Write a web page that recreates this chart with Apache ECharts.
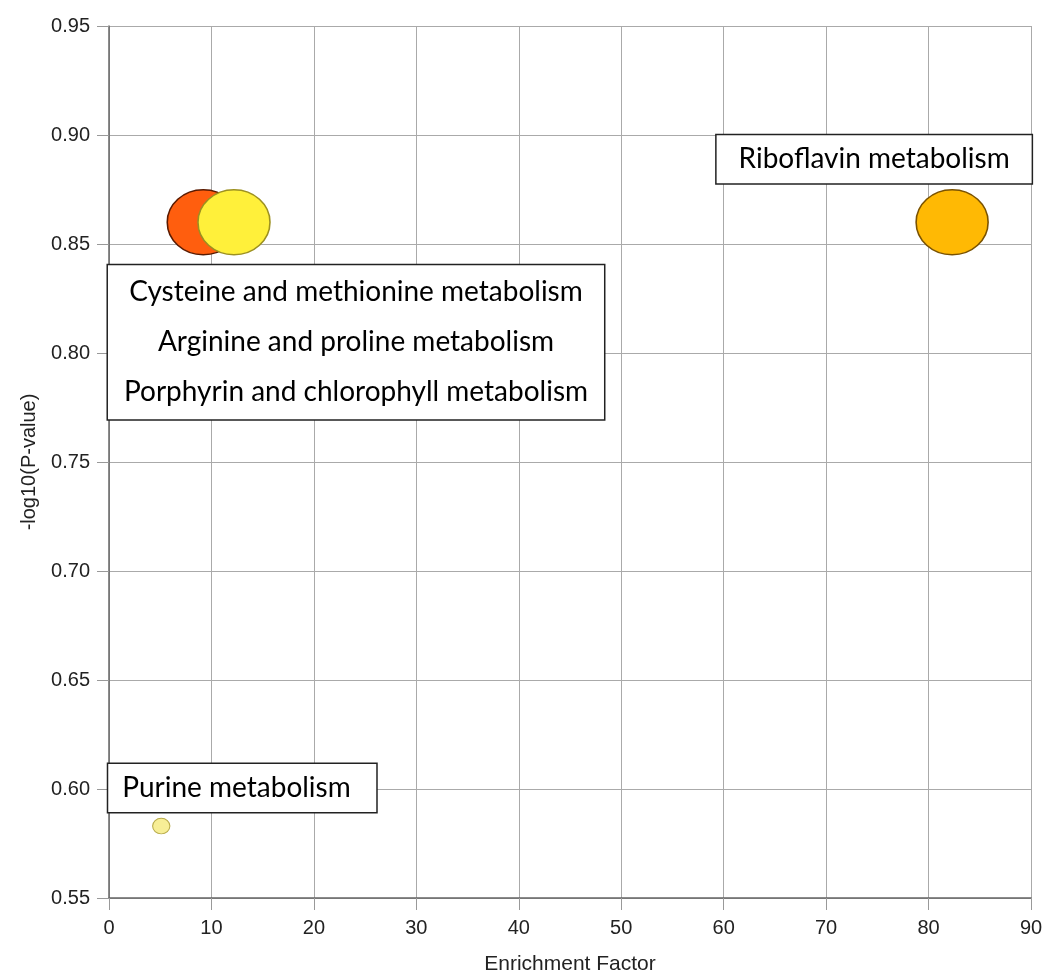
<!DOCTYPE html>
<html>
<head>
<meta charset="utf-8">
<style>html,body{margin:0;padding:0;background:#fff}#c{width:1047px;height:971px}</style>
<script src="https://cdn.jsdelivr.net/npm/echarts@6/dist/echarts.min.js"></script>
</head>
<body>
<div id="c"></div>
<script>
// ---- data ----
const enrichment = [9.2, 12.2, 82.3, 5.1];
const negLogP = [0.86, 0.86, 0.86, 0.583];
const impact = [0.5, 0.5, 0.5, 0.12];
const labels = [
  '',
  'Cysteine and methionine metabolism\nArginine and proline metabolism\nPorphyrin and chlorophyll metabolism',
  'Riboflavin metabolism',
  'Purine metabolism'
];
const xTicks = [0, 10, 20, 30, 40, 50, 60, 70, 80, 90];
const yTicks = [0.55, 0.60, 0.65, 0.70, 0.75, 0.80, 0.85, 0.90, 0.95];

// ---- styles ----
const fills = ['#FF5E0E', '#FFF03A', '#FFB904', '#F7EE96'];
const borders = ['#5a1a00', '#9c9020', '#7a5200', '#b8ab4a'];
const labelStyles = [
  null,
  { offset: [122, 120], width: 456, padding: [2, 20], lineHeight: 50 },
  { offset: [-78, -63], width: 273, padding: [6, 21], lineHeight: 36 },
  { offset: [-53, -38], width: 230, padding: [6, 24, 6, 14], lineHeight: 36, align: 'left' }
];

const data = enrichment.map((x, i) => {
  const item = {
    value: [x, negLogP[i], impact[i]],
    name: labels[i],
    itemStyle: { color: fills[i], borderColor: borders[i], borderWidth: i === 3 ? 1 : 1.5, opacity: 1 }
  };
  const ls = labelStyles[i];
  if (ls) {
    item.label = {
      show: true,
      position: 'inside',
      formatter: labels[i],
      fontFamily: 'Lato',
      fontSize: 28,
      color: '#000',
      align: ls.align || 'center',
      width: ls.width,
      lineHeight: ls.lineHeight,
      padding: ls.padding,
      backgroundColor: '#fff',
      borderColor: '#222',
      borderWidth: 1.5
    };
  } else {
    item.label = { show: false };
  }
  return item;
});

const chart = echarts.init(document.getElementById('c'), null, { renderer: 'canvas' });
const axisFont = { fontFamily: 'Liberation Sans, Arial, sans-serif' };
chart.setOption({
  animation: false,
  backgroundColor: '#fff',
  grid: { left: 109, top: 26, right: 16, bottom: 73, containLabel: false, outerBoundsMode: 'none' },
  xAxis: {
    type: 'value',
    min: xTicks[0], max: xTicks[xTicks.length - 1], interval: 10,
    name: 'Enrichment Factor', nameLocation: 'middle', nameGap: 56,
    nameTextStyle: Object.assign({ fontSize: 21, color: '#222' }, axisFont),
    axisLine: { show: true, lineStyle: { color: '#666', width: 1.5 } },
    axisTick: { show: true, length: 12, lineStyle: { color: '#999' } },
    axisLabel: Object.assign({ fontSize: 20, color: '#222', margin: 20 }, axisFont),
    splitLine: { show: true, lineStyle: { color: '#aaa', width: 1 } }
  },
  yAxis: {
    type: 'value',
    min: yTicks[0], max: yTicks[yTicks.length - 1], interval: 0.05,
    name: '-log10(P-value)', nameLocation: 'middle', nameGap: 70,
    nameTextStyle: Object.assign({ fontSize: 20, color: '#222' }, axisFont),
    axisLine: { show: true, lineStyle: { color: '#666', width: 1.5 } },
    axisTick: { show: true, length: 12, lineStyle: { color: '#999' } },
    axisLabel: Object.assign({ fontSize: 20, color: '#222', margin: 19,
      formatter: v => v.toFixed(2) }, axisFont),
    splitLine: { show: true, lineStyle: { color: '#aaa', width: 1 } }
  },
  series: [{
    type: 'scatter',
    symbol: 'circle',
    symbolSize: v => [v[2] * 144, v[2] * 130],
    data: data,
    labelLayout: p => {
      const ls = labelStyles[p.dataIndex];
      return ls ? { dx: ls.offset[0], dy: ls.offset[1], hideOverlap: false } : {};
    },
    emphasis: { disabled: true }
  }]
});
</script>
</body>
</html>
